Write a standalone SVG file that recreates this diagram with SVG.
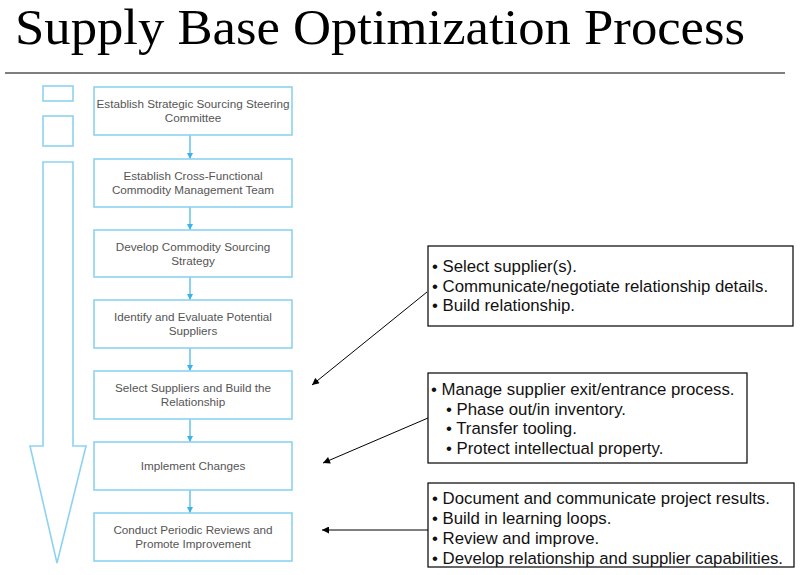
<svg xmlns="http://www.w3.org/2000/svg" width="803" height="575" viewBox="0 0 803 575">
<style>
.step{fill:#fff;stroke:#8dd3f1;stroke-width:1.6}
.st{font-family:"Liberation Sans",Arial,sans-serif;font-size:11.7px;fill:#555;text-anchor:middle}
.call{fill:#fff;stroke:#000;stroke-width:1.2}
.ct{font-family:"Liberation Sans",Arial,sans-serif;font-size:16.8px;fill:#111}
.flow{stroke:#3cb2ea;stroke-width:1.2;fill:none}
.ptr{stroke:#000;stroke-width:1;fill:none}
</style>
<defs>
<marker id="bh" viewBox="0 0 10 10" refX="10" refY="5" markerWidth="6" markerHeight="6" orient="auto" markerUnits="userSpaceOnUse"><path d="M0,0 L10,5 L0,10 z" fill="#3cb2ea"/></marker>
<marker id="kh" viewBox="0 0 10 10" refX="10" refY="5" markerWidth="9" markerHeight="7" orient="auto" markerUnits="userSpaceOnUse"><path d="M0,0 L10,5 L0,10 z" fill="#000"/></marker>
</defs>
<rect width="803" height="575" fill="#fff"/>
<text x="15" y="44" font-family="'Liberation Serif','Times New Roman',serif" font-size="51" textLength="730" lengthAdjust="spacingAndGlyphs" fill="#000">Supply Base Optimization Process</text>
<line x1="5" y1="73" x2="785" y2="73" stroke="#000" stroke-width="1.2"/>
<g id="big-arrow" fill="none" stroke="#8dd3f1" stroke-width="1.6">
<rect x="43" y="86" width="30" height="15"/>
<rect x="43" y="116" width="30" height="30"/>
<path d="M43,162 L73,162 L73,446 L86,446 L57,563 L30,446 L43,446 z"/>
</g>
<g id="connectors">
<line class="flow" x1="190" y1="135" x2="190" y2="159" marker-end="url(#bh)"/>
<line class="flow" x1="190" y1="207" x2="190" y2="230" marker-end="url(#bh)"/>
<line class="flow" x1="190" y1="277" x2="190" y2="300" marker-end="url(#bh)"/>
<line class="flow" x1="190" y1="348" x2="190" y2="371" marker-end="url(#bh)"/>
<line class="flow" x1="190" y1="419" x2="190" y2="442" marker-end="url(#bh)"/>
<line class="flow" x1="190" y1="490" x2="190" y2="513" marker-end="url(#bh)"/>
<line class="ptr" x1="427" y1="292" x2="312" y2="385" marker-end="url(#kh)"/>
<line class="ptr" x1="428" y1="418" x2="323" y2="463" marker-end="url(#kh)"/>
<line class="ptr" x1="428" y1="530" x2="322" y2="530" marker-end="url(#kh)"/>
</g>
<g id="step1"><rect class="step" x="94" y="87" width="198" height="48"/><text class="st" x="193" y="108">Establish Strategic Sourcing Steering</text><text class="st" x="193" y="122">Committee</text></g>
<g id="step2"><rect class="step" x="94" y="159" width="198" height="48"/><text class="st" x="193" y="180">Establish Cross-Functional</text><text class="st" x="193" y="194">Commodity Management Team</text></g>
<g id="step3"><rect class="step" x="94" y="230" width="198" height="47"/><text class="st" x="193" y="251">Develop Commodity Sourcing</text><text class="st" x="193" y="265">Strategy</text></g>
<g id="step4"><rect class="step" x="94" y="300" width="198" height="48"/><text class="st" x="193" y="321">Identify and Evaluate Potential</text><text class="st" x="193" y="335">Suppliers</text></g>
<g id="step5"><rect class="step" x="94" y="371" width="198" height="48"/><text class="st" x="193" y="392">Select Suppliers and Build the</text><text class="st" x="193" y="406">Relationship</text></g>
<g id="step6"><rect class="step" x="94" y="442" width="198" height="48"/><text class="st" x="193" y="470">Implement Changes</text></g>
<g id="step7"><rect class="step" x="94" y="513" width="198" height="48"/><text class="st" x="193" y="534">Conduct Periodic Reviews and</text><text class="st" x="193" y="548">Promote Improvement</text></g>
<g id="note-select"><rect class="call" x="428" y="246" width="365" height="80"/>
<text class="ct" x="432" y="272">• Select supplier(s).</text>
<text class="ct" x="432" y="292">• Communicate/negotiate relationship details.</text>
<text class="ct" x="432" y="311">• Build relationship.</text></g>
<g id="note-implement"><rect class="call" x="428" y="373" width="319" height="90"/>
<text class="ct" x="431" y="395">• Manage supplier exit/entrance process.</text>
<text class="ct" x="446" y="415">• Phase out/in inventory.</text>
<text class="ct" x="446" y="434">• Transfer tooling.</text>
<text class="ct" x="446" y="454">• Protect intellectual property.</text></g>
<g id="note-review"><rect class="call" x="428" y="483" width="366" height="84"/>
<text class="ct" x="432" y="504">• Document and communicate project results.</text>
<text class="ct" x="432" y="524">• Build in learning loops.</text>
<text class="ct" x="432" y="544">• Review and improve.</text>
<text class="ct" x="432" y="564">• Develop relationship and supplier capabilities.</text></g>
</svg>
